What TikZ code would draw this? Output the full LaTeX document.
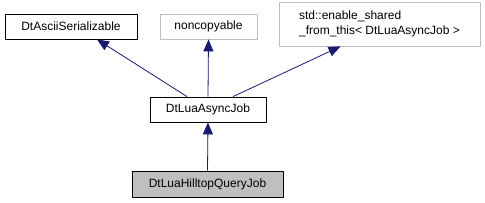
\documentclass[tikz,border=0pt]{standalone}
\usepackage{fontspec}
\setmainfont{Liberation Sans}
\usetikzlibrary{arrows.meta}
\definecolor{edgeblue}{HTML}{191970}
\definecolor{boxgray}{HTML}{BFBFBF}
\tikzset{
  every picture/.style={line join=round, font=\fontsize{12}{15}\selectfont},
  classbox/.style={draw=black, fill=white, line width=0.8pt, inner sep=0pt, minimum height=25pt},
  extbox/.style={draw=boxgray, fill=white, line width=0.8pt, inner sep=0pt, minimum height=25pt},
  curbox/.style={draw=black, fill=boxgray, line width=0.8pt, inner sep=0pt, minimum height=26pt},
  inherit/.style={draw=edgeblue, line width=0.8pt, -{Triangle[width=10pt,length=12pt]}},
}

\begin{document}
\begin{tikzpicture}[x=1pt,y=-1pt]
\useasboundingbox (0,0) rectangle (485,203);
\node[classbox,minimum width=132pt] (ascii) at (71,26.5) {DtAsciiSerializable};
\node[extbox,minimum width=97pt] (noncopy) at (208.5,26.5) {noncopyable};
\node[extbox,minimum width=201pt,minimum height=44pt,align=left] (shared) at (379.5,24)
  {std::enable\_shared\\\_from\_this\textless{} DtLuaAsyncJob \textgreater};
\node[classbox,minimum width=116pt] (async) at (208,109.5) {DtLuaAsyncJob};
\node[curbox,minimum width=151pt] (hilltop) at (207.5,184) {DtLuaHilltopQueryJob};
% inheritance
\draw[inherit] ([xshift=-21pt]async.north) -- ([xshift=26pt]ascii.south);
\draw[inherit] (async.north) -- (noncopy.south);
\draw[inherit] ([xshift=25pt]async.north) -- ([xshift=-39pt]shared.south);
\draw[inherit] (hilltop.north) -- (async.south);
\end{tikzpicture}
\end{document}
